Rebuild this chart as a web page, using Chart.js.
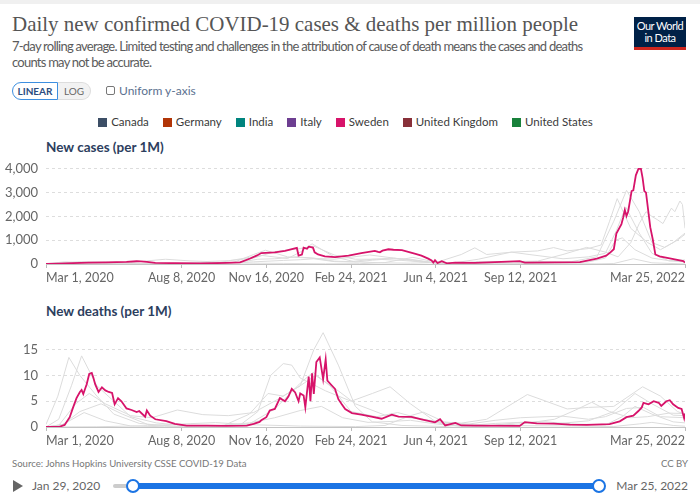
<!DOCTYPE html>
<html>
<head>
<meta charset="utf-8">
<script src="https://cdn.jsdelivr.net/npm/chart.js@4.4.1/dist/chart.umd.min.js"></script>
<style>
  body { margin: 0; width: 700px; height: 493px; background: #fff; font-family: Lato, sans-serif; overflow: hidden; position: relative; }
  .abs { position: absolute; white-space: nowrap; }
  #topbar { left: 0; top: 0; width: 700px; height: 4px; background: #f0f0f0; }
  #title { left: 12px; top: 12px; font-family: "Liberation Serif", serif; font-size: 23px; color: #555; }
  #subtitle { left: 12px; top: 38px; font-size: 13px; line-height: 16px; color: #5b5b5b; }
  #logo { left: 634px; top: 17px; width: 52px; height: 33px; background: #002147; color: #fff; font-size: 11px; line-height: 12px; text-align: center; letter-spacing: -0.5px; z-index: 2; overflow: hidden; }
  #logo div { padding-top: 3px; }
  #logo span.bar { position: absolute; left: 0; bottom: 0; width: 52px; height: 3px; background: #ce261e; }
  #toggle { left: 12px; top: 82px; height: 18px; display: flex; font-size: 10px; }
  #toggle .lin { width: 44px; border: 1px solid #3d8fe0; border-radius: 9px 0 0 9px; color: #2b4c7e; text-align: center; line-height: 16px; background: #fff; font-weight: bold; }
  #toggle .log { width: 32px; border: 1px solid #ddd; border-left: none; border-radius: 0 9px 9px 0; color: #666; text-align: center; line-height: 16px; background: #f2f2f2; }
  #uniform { left: 106px; top: 83px; font-size: 12px; color: #5b7190; line-height: 16px; }
  #uniform i { display: inline-block; width: 7px; height: 7px; border: 1px solid #777; border-radius: 2px; margin-right: 4px; vertical-align: 0px; }
  #legend { left: 0; top: 114px; width: 691px; display: flex; justify-content: center; gap: 14px; font-size: 11.5px; color: #3a3a3a; line-height: 16px; }
  #legend span i { display: inline-block; width: 9px; height: 9px; margin-right: 4px; vertical-align: -1px; }
  .ctitle { left: 46px; font-size: 13.5px; font-weight: bold; color: #2c3e5e; }
  canvas { position: absolute; left: 0; }
  #source { left: 12px; top: 458px; font-size: 9.6px; color: #777; }
  #ccby { right: 12px; top: 458px; font-size: 9.6px; color: #777; }
  #play { left: 13px; top: 480px; width: 0; height: 0; border-left: 10px solid #666; border-top: 6px solid transparent; border-bottom: 6px solid transparent; }
  #startDate { left: 32px; top: 478px; font-size: 12px; color: #666; }
  #endDate { right: 12px; top: 478px; font-size: 12px; color: #666; }
  #trackGray { left: 113px; top: 484px; width: 22px; height: 4px; background: #ccc; border-radius: 2px; }
  #trackBlue { left: 133px; top: 483px; width: 466px; height: 6px; background: #1b74e4; }
  .knob { top: 479px; width: 10px; height: 10px; border: 2px solid #1b74e4; border-radius: 50%; background: #fff; }
</style>
</head>
<body>
<div class="abs" id="topbar"></div>
<div class="abs" id="title">Daily new confirmed COVID-19 cases &amp; deaths per million people</div>
<div class="abs" id="subtitle"><span id="sub1">7-day rolling average. Limited testing and challenges in the attribution of cause of death means the cases and deaths</span><br>counts may not be accurate.</div>
<div class="abs" id="logo"><div>Our World<br>in Data</div><span class="bar"></span></div>
<div class="abs" id="toggle"><div class="lin">LINEAR</div><div class="log">LOG</div></div>
<div class="abs" id="uniform"><i></i>Uniform y-axis</div>
<div class="abs" id="legend"></div>
<div class="abs ctitle" style="top:139px">New cases (per 1M)</div>
<div class="abs ctitle" style="top:303px">New deaths (per 1M)</div>
<canvas id="cases" width="700" height="140" style="top:150px"></canvas>
<canvas id="deaths" width="700" height="137" style="top:316px"></canvas>
<div class="abs" id="source">Source: Johns Hopkins University CSSE COVID-19 Data</div>
<div class="abs" id="ccby">CC BY</div>
<div class="abs" id="play"></div>
<div class="abs" id="startDate">Jan 29, 2020</div>
<div class="abs" id="trackGray"></div>
<div class="abs" id="trackBlue"></div>
<div class="abs knob" style="left:126px"></div>
<div class="abs knob" style="left:592px"></div>
<div class="abs" id="endDate">Mar 25, 2022</div>

<script>
// x values are days since Mar 1, 2020
const countries = ["Canada", "Germany", "India", "Italy", "Sweden", "United Kingdom", "United States"];
const legendColors = ["#3c4e66", "#b13507", "#00847e", "#6d3e91", "#d7136a", "#883039", "#18813b"];
const highlighted = "Sweden";

const xTickDays = [0, 160, 260, 360, 460, 560, 754];
const xTickLabels = ["Mar 1, 2020", "Aug 8, 2020", "Nov 16, 2020", "Feb 24, 2021", "Jun 4, 2021", "Sep 12, 2021", "Mar 25, 2022"];
const casesTicks = [0, 1000, 2000, 3000, 4000];
const deathsTicks = [0, 5, 10, 15];

// new cases per million, [day, value]
const casesCanada = [[0,1],[20,25],[45,40],[58,48],[80,35],[110,10],[150,10],[190,15],[220,50],[245,90],[280,150],[300,180],[316,220],[340,100],[365,80],[385,160],[410,230],[430,200],[455,70],[480,10],[520,20],[550,90],[580,110],[610,65],[640,85],[660,250],[672,1000],[680,1100],[695,600],[715,250],[735,140],[754,170]];
const casesGermany = [[0,2],[20,50],[40,70],[60,20],[90,5],[130,6],[170,15],[200,25],[230,90],[250,200],[270,220],[295,300],[315,250],[340,120],[360,100],[385,200],[410,250],[430,180],[460,30],[490,8],[520,50],[560,110],[580,120],[610,400],[638,700],[660,500],[675,300],[690,900],[700,1700],[708,2200],[715,2000],[722,1850],[728,1700],[734,2100],[738,2350],[742,2200],[748,2650],[751,2500],[754,1500]];
const casesIndia = [[0,0],[60,2],[120,12],[160,40],[200,68],[240,35],[280,25],[330,9],[370,13],[400,60],[433,280],[460,80],[500,28],[560,25],[600,10],[650,6],[670,20],[693,220],[715,50],[754,1]];
const casesItaly = [[0,10],[22,90],[50,50],[80,15],[120,3],[160,5],[184,20],[220,50],[245,400],[259,580],[285,300],[310,250],[340,200],[382,380],[410,250],[440,100],[480,15],[510,100],[540,100],[580,50],[620,100],[650,300],[670,1800],[685,3100],[700,2200],[715,900],[730,700],[745,1000],[754,1250]];
const casesSweden = [[0,0],[15,15],[32,40],[50,55],[72,65],[95,90],[107,115],[112,110],[119,90],[129,50],[150,35],[182,25],[213,45],[229,65],[241,230],[249,360],[254,460],[270,490],[282,555],[296,675],[298,355],[302,400],[304,690],[308,640],[310,730],[315,690],[317,490],[321,400],[329,320],[341,290],[357,355],[372,460],[388,555],[392,510],[394,490],[397,560],[404,620],[410,600],[420,580],[436,425],[443,355],[451,225],[455,150],[457,65],[459,160],[462,40],[467,120],[473,30],[483,60],[506,50],[530,80],[559,120],[565,60],[600,70],[630,80],[650,225],[661,350],[666,490],[670,620],[673,1280],[679,1680],[681,1945],[683,2270],[685,2020],[687,2220],[691,3070],[693,3100],[696,3730],[699,4000],[702,4000],[704,3610],[706,3070],[708,3000],[713,1550],[716,1030],[719,400],[724,320],[736,235],[752,120],[754,60]];
const casesUK = [[0,1],[20,40],[42,70],[80,30],[120,10],[170,15],[200,35],[230,220],[255,360],[285,230],[300,500],[314,850],[340,300],[365,90],[400,45],[430,35],[460,60],[490,400],[506,680],[520,400],[550,500],[580,550],[599,690],[615,550],[640,650],[655,800],[665,1800],[674,2750],[690,1500],[710,900],[725,600],[740,900],[754,1300]];
const casesUS = [[0,0],[20,40],[40,95],[70,80],[100,60],[125,150],[141,200],[170,130],[190,105],[215,140],[245,250],[270,520],[300,650],[316,750],[340,380],[365,200],[390,200],[420,150],[460,45],[480,40],[510,200],[549,500],[570,400],[610,220],[640,300],[660,450],[673,1400],[684,2400],[700,1300],[715,450],[735,130],[754,90]];

// new deaths per million, [day, value]
const deathsCanada = [[0,0],[20,0.5],[40,3.0],[65,4.5],[90,2.5],[120,0.5],[160,0.1],[200,0.2],[240,0.8],[270,1.8],[300,3.2],[325,4.0],[350,1.8],[380,0.9],[410,1.1],[430,1.3],[460,0.6],[490,0.1],[520,0.2],[560,0.9],[590,1.0],[620,0.6],[660,0.4],[680,2.0],[695,4.0],[715,2.5],[740,1.0],[754,0.8]];
const deathsGermany = [[0,0],[20,0.5],[45,2.8],[70,1.2],[100,0.2],[140,0.05],[200,0.1],[240,0.6],[270,3.5],[300,8.5],[315,10.6],[335,8.0],[360,3.0],[390,2.0],[415,2.8],[445,1.5],[475,0.3],[520,0.2],[560,0.6],[600,1.5],[625,3.3],[644,4.8],[665,3.0],[690,1.8],[710,2.0],[735,2.7],[754,2.6]];
const deathsIndia = [[0,0],[60,0.05],[120,0.25],[170,0.65],[200,0.85],[240,0.45],[300,0.18],[365,0.08],[400,0.3],[430,2.2],[445,2.9],[470,1.0],[510,0.35],[560,0.25],[620,0.2],[670,0.1],[700,0.6],[715,0.9],[740,0.3],[754,0.15]];
const deathsItaly = [[0,0.5],[14,6],[27,13.5],[40,10],[60,6],[80,2.5],[110,0.7],[150,0.1],[200,0.2],[230,0.5],[250,3.0],[265,10],[280,12.3],[290,12.0],[300,9.5],[330,7.0],[360,5.0],[385,6.5],[406,7.8],[430,4.5],[460,1.0],[490,0.2],[530,0.7],[560,0.9],[600,0.6],[640,1.2],[670,3.0],[695,6.5],[715,4.5],[740,2.3],[754,2.2]];
const deathsSweden = [[0,0],[15,0],[22,0.4],[28,1.9],[32,3.8],[36,5.6],[40,6.8],[42,7.2],[44,6.4],[48,8.3],[51,10.3],[54,10.5],[56,9.5],[58,8.3],[62,6.8],[66,7.7],[70,7.1],[74,6.8],[78,6.6],[81,4.4],[85,5.6],[89,5.0],[95,3.6],[101,3.3],[107,2.9],[110,3.1],[117,2.0],[119,3.2],[123,2.2],[129,1.5],[142,1.15],[152,0.6],[166,0.25],[190,0.25],[213,0.2],[237,0.25],[245,0.6],[252,1.0],[254,1.3],[260,1.9],[264,3.2],[270,3.5],[276,5.6],[282,5.0],[286,5.9],[290,7.4],[294,6.7],[298,5.0],[300,6.5],[304,6.1],[306,3.8],[310,9.8],[312,5.0],[314,10.4],[316,6.4],[319,12.6],[323,13.5],[327,9.3],[330,13.1],[332,9.0],[337,8.1],[341,7.4],[345,5.4],[349,4.4],[353,3.5],[361,2.7],[372,2.4],[384,2.0],[396,1.6],[408,2.4],[416,2.0],[431,1.95],[443,1.5],[459,0.9],[465,1.5],[471,0.3],[483,0.8],[490,0.3],[506,0.25],[559,0.2],[565,0.95],[579,0.7],[599,0.65],[618,0.45],[638,0.4],[665,0.55],[677,1.1],[685,1.9],[693,2.2],[699,3.1],[703,3.8],[705,4.7],[711,4.4],[717,5.0],[723,4.7],[726,4.1],[732,5.0],[736,5.2],[740,4.4],[746,3.7],[750,3.5],[753,1.7],[754,2.6]];
const deathsUK = [[0,0],[15,1.5],[30,8],[42,13.8],[60,8],[80,5],[100,2],[130,0.8],[170,0.15],[210,0.3],[240,2.5],[262,6.5],[280,6.0],[300,8.0],[316,15],[327,18.3],[345,12],[365,4],[385,1.0],[420,0.3],[470,0.1],[500,0.6],[530,1.3],[560,1.8],[590,2.0],[610,2.1],[640,1.5],[660,2.0],[685,3.6],[705,3.8],[725,2.0],[754,1.8]];
const deathsUS = [[0,0],[15,0.3],[35,4.5],[51,6.5],[70,4.5],[100,2.2],[125,1.8],[155,3.3],[185,2.4],[215,2.2],[245,2.8],[275,5.5],[300,8],[318,10],[345,7],[365,4.5],[400,2.3],[440,1.6],[470,0.9],[490,0.75],[520,1.5],[550,4.5],[568,6.3],[590,5.0],[615,3.5],[640,3.8],[670,4.0],[704,7.8],[725,6.0],[745,3.0],[754,2.5]];

const casesSeries = [casesCanada, casesGermany, casesIndia, casesItaly, casesSweden, casesUK, casesUS];
const deathsSeries = [deathsCanada, deathsGermany, deathsIndia, deathsItaly, deathsSweden, deathsUK, deathsUS];

// legend
const legend = document.getElementById("legend");
countries.forEach((c, i) => {
  const s = document.createElement("span");
  s.innerHTML = '<i style="background:' + legendColors[i] + '"></i>' + c;
  legend.appendChild(s);
});

// fit title and subtitle widths like the original
const title = document.getElementById("title");
title.style.fontSize = (23 * 566 / title.offsetWidth) + "px";
const sub = document.getElementById("subtitle");
const sub1 = document.getElementById("sub1");
sub.style.letterSpacing = ((570 - sub1.offsetWidth) / sub1.textContent.length) + "px";

function makeDatasets(series) {
  return series.map((pts, i) => ({
    label: countries[i],
    data: pts.map(p => ({ x: p[0], y: p[1] })),
    borderColor: countries[i] === highlighted ? "#d7136a" : "#dcdcdc",
    borderWidth: countries[i] === highlighted ? 1.8 : 1,
    pointRadius: 0,
    tension: 0,
    order: countries[i] === highlighted ? 0 : 1
  }));
}

function makeChart(id, series, yTicks, yMax) {
  return new Chart(document.getElementById(id), {
    type: "line",
    data: { datasets: makeDatasets(series) },
    options: {
      responsive: false,
      animation: false,
      devicePixelRatio: 1,
      layout: { padding: { top: 10, right: 15, left: 0, bottom: 0 } },
      plugins: { legend: { display: false }, tooltip: { enabled: false } },
      scales: {
        x: {
          type: "linear",
          min: 0,
          max: 754,
          afterFit: s => { s.height = 26; },
          afterBuildTicks: s => { s.ticks = xTickDays.map(v => ({ value: v })); },
          grid: { drawOnChartArea: false, drawTicks: true, tickLength: 4, color: "#bbb" },
          border: { display: true, color: "#c4c4c4", width: 1 },
          ticks: {
            align: "inner",
            autoSkip: false,
            maxRotation: 0,
            padding: 2,
            color: "#666",
            font: { family: "Lato", size: 12.5 },
            callback: v => xTickLabels[xTickDays.indexOf(v)]
          }
        },
        y: {
          min: 0,
          max: yMax,
          afterFit: s => { s.width = 46; },
          afterBuildTicks: s => { s.ticks = yTicks.map(v => ({ value: v })); },
          grid: {
            drawTicks: false,
            color: c => (c.tick && c.tick.value === 0 ? "rgba(0,0,0,0)" : "#dddddd")
          },
          border: { display: false, dash: [3, 3] },
          ticks: {
            padding: 8,
            color: "#666",
            font: { family: "Lato", size: 13 },
            callback: v => v.toLocaleString("en-US")
          }
        }
      }
    }
  });
}

makeChart("cases", casesSeries, casesTicks, 4131);
makeChart("deaths", deathsSeries, deathsTicks, 18.47);
</script>
</body>
</html>
